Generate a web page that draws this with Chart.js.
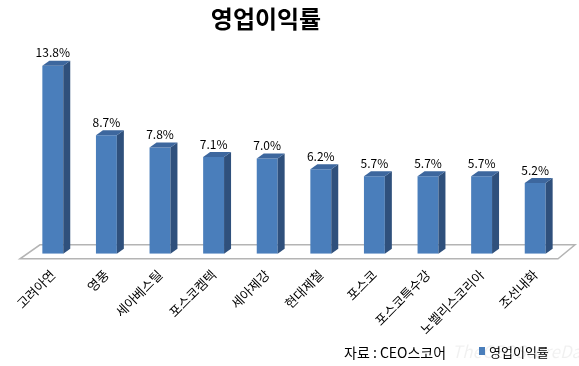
<!DOCTYPE html>
<html>
<head>
<meta charset="utf-8">
<script src="https://cdn.jsdelivr.net/npm/chart.js@4.4.1/dist/chart.umd.min.js"></script>
<style>
  html, body { margin: 0; padding: 0; background: #fff; }
  #wrap { width: 579px; height: 366px; position: relative; }
</style>
</head>
<body>
<div id="wrap"><canvas id="grafica"></canvas></div>
<script>
// 영업이익률 - 3D 막대 느낌으로

const categories = ["고려아연", "영풍", "세아베스틸", "포스코켐텍", "세아제강", "현대제철", "포스코", "포스코특수강", "노벨리스코리아", "조선내화"];
const margins = [13.8, 8.7, 7.8, 7.1, 7.0, 6.2, 5.7, 5.7, 5.7, 5.2];
const seriesName = "영업이익률";
const sourceText = "자료 : CEO스코어";

const FONT = "'Noto Sans CJK KR', 'Noto Sans', sans-serif";
const DX = 7, DY = -5;

// 바닥 + 막대 옆면/윗면 + 값 라벨
const fake3d = {
    id: "fake3d",
    beforeDatasetsDraw(chart) {
        let ctx = chart.ctx;
        let a = chart.chartArea;
        let base = chart.scales.y.getPixelForValue(0);
        ctx.save();
        ctx.strokeStyle = "#b4b4b4";
        ctx.lineWidth = 1.5;
        ctx.beginPath();
        ctx.moveTo(a.left - 6, base + 5);
        ctx.lineTo(a.right - 4, base + 5);
        ctx.lineTo(a.right + 13, base - 9);
        ctx.lineTo(a.left + 14, base - 9);
        ctx.closePath();
        ctx.stroke();
        // title (slightly left of centre, like the original)
        ctx.fillStyle = "#000";
        ctx.font = "bold 24px " + FONT;
        ctx.textAlign = "center";
        ctx.textBaseline = "middle";
        ctx.fillText("영업이익률", 266, 19);
        ctx.restore();
    },
    afterDatasetsDraw(chart) {
        let ctx = chart.ctx;
        let meta = chart.getDatasetMeta(0);
        ctx.save();
        meta.data.forEach((bar, i) => {
            let l = bar.x - bar.width / 2, r = bar.x + bar.width / 2;
            let t = bar.y, b = bar.base;
            // side
            ctx.fillStyle = "#2f507c";
            ctx.beginPath();
            ctx.moveTo(r, t);
            ctx.lineTo(r + DX, t + DY);
            ctx.lineTo(r + DX, b + DY);
            ctx.lineTo(r, b);
            ctx.closePath();
            ctx.fill();
            // top
            ctx.fillStyle = "#3d679e";
            ctx.beginPath();
            ctx.moveTo(l, t);
            ctx.lineTo(l + DX, t + DY);
            ctx.lineTo(r + DX, t + DY);
            ctx.lineTo(r, t);
            ctx.closePath();
            ctx.fill();
            // value label
            ctx.fillStyle = "#000";
            ctx.font = "12px " + FONT;
            ctx.textAlign = "center";
            ctx.textBaseline = "middle";
            ctx.fillText(margins[i].toFixed(1) + "%", bar.x, t - 13);
        });
        // source + legend
        ctx.font = "14px " + FONT;
        ctx.textAlign = "left";
        ctx.textBaseline = "middle";
        ctx.fillText(sourceText, 344, 353);
        ctx.fillStyle = "rgba(0,0,0,0.06)";
        ctx.font = "italic 17px " + FONT;
        ctx.fillText("TheCEOScoreDaily", 452, 352);
        ctx.fillStyle = "#4a7ebb";
        ctx.fillRect(479, 347, 6, 8);
        ctx.fillStyle = "#000";
        ctx.font = "13px " + FONT;
        ctx.fillText(seriesName, 489, 352);
        ctx.restore();
    }
};

let ctx = document.getElementById("grafica");
let myChart = new Chart(ctx, {
    type: "bar",
    data: {
        labels: categories,
        datasets: [{
            label: seriesName,
            backgroundColor: "#4a7ebb",
            data: margins,
            barPercentage: 0.39,
            categoryPercentage: 1
        }]
    },
    options: {
        responsive: true,
        maintainAspectRatio: false,
        animation: false,
        layout: { padding: { left: 26, right: 17, top: 40, bottom: 24 } },
        plugins: {
            legend: { display: false },
            tooltip: { enabled: false },
            title: { display: false }
        },
        scales: {
            x: {
                grid: { display: false },
                border: { display: false },
                ticks: {
                    color: "#000",
                    font: { family: FONT, size: 13 },
                    minRotation: 45,
                    maxRotation: 45,
                    padding: 5
                }
            },
            y: {
                display: false,
                min: 0,
                max: 15.7
            }
        }
    },
    plugins: [fake3d]
});
</script>
</body>
</html>
